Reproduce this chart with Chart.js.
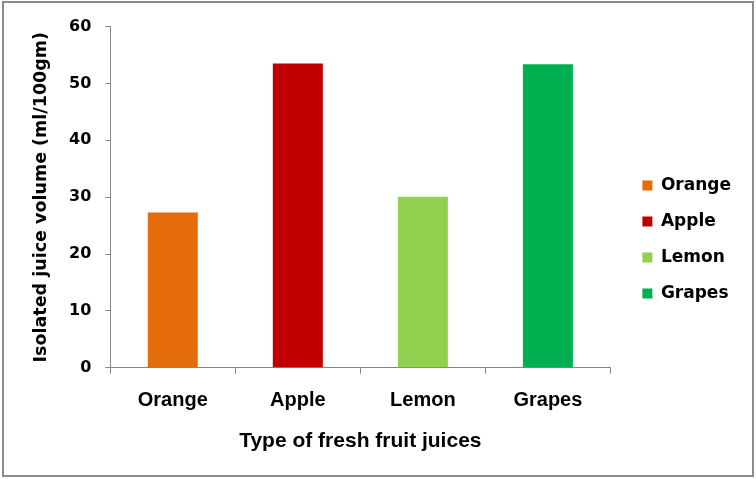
<!DOCTYPE html>
<html>
<head>
<meta charset="utf-8">
<script src="https://cdn.jsdelivr.net/npm/chart.js@4"></script>
<style>
  html, body { margin: 0; padding: 0; background: #fff; }
  #frame {
    position: absolute; left: 2px; top: 1px;
    width: 752px; height: 476px;
    box-sizing: border-box;
    border: 2px solid #8c8c8c;
  }
  #frame canvas { display: block; }
</style>
</head>
<body>
<div id="frame"><canvas id="juiceChart" width="748" height="472"></canvas></div>
<script>
const categories = ['Orange', 'Apple', 'Lemon', 'Grapes'];
const volumes = [27.3, 53.5, 30.1, 53.4];
const barColors = ['#e46c0a', '#c00000', '#92d050', '#00b050'];
const yTicks = [0, 10, 20, 30, 40, 50, 60];

const axisGray = '#868686';
const arial = '"Liberation Sans", Arial, sans-serif';
const wide = '"DejaVu Sans", Verdana, sans-serif';

const ctx = document.getElementById('juiceChart').getContext('2d');
const juiceChart = new Chart(ctx, {
    type: 'bar',
    data: {
        labels: categories,
        datasets: [{
            label: 'Isolated juice volume',
            data: volumes,
            backgroundColor: barColors,
            borderWidth: 0,
            barPercentage: 0.4,
            categoryPercentage: 1.0
        }]
    },
    options: {
        responsive: false,
        animation: false,
        layout: { padding: { left: 27, top: 22, right: 11, bottom: 21 } },
        plugins: {
            legend: {
                position: 'right',
                labels: {
                    boxWidth: 10,
                    boxHeight: 10,
                    padding: 19,
                    color: '#000',
                    font: { family: wide, size: 17, weight: 'bold' },
                    generateLabels: function(chart) {
                        return categories.map((name, i) => ({
                            text: name,
                            fillStyle: barColors[i],
                            strokeStyle: barColors[i],
                            lineWidth: 0,
                            hidden: false,
                            index: i
                        }));
                    }
                },
                onClick: null
            },
            tooltip: { enabled: false }
        },
        scales: {
            x: {
                grid: { drawOnChartArea: false, color: axisGray, tickLength: 6, offset: true },
                border: { color: axisGray, width: 1 },
                ticks: { color: '#000', padding: 15, font: { family: arial, size: 20, weight: 'bold' } },
                title: {
                    display: true,
                    text: 'Type of fresh fruit juices',
                    color: '#000',
                    padding: { top: 1, bottom: 0 },
                    font: { family: arial, size: 21, weight: 'bold' }
                }
            },
            y: {
                min: 0,
                max: 60,
                afterBuildTicks: axis => { axis.ticks = yTicks.map(v => ({ value: v })); },
                grid: { drawOnChartArea: false, color: axisGray, tickLength: 5 },
                border: { color: axisGray, width: 1 },
                ticks: { color: '#000', padding: 14, font: { family: wide, size: 16, weight: 'bold' } },
                title: {
                    display: true,
                    text: 'Isolated juice volume (ml/100gm)',
                    color: '#000',
                    padding: { top: 0, bottom: 3 },
                    font: { family: wide, size: 17.5, weight: 'bold' }
                }
            },
            // empty spacer between the plot and the legend
            gap: {
                type: 'linear',
                position: 'right',
                grid: { display: false },
                border: { display: false },
                ticks: { display: false },
                afterFit: s => { s.width = 13; }
            }
        }
    }
});
</script>
</body>
</html>
